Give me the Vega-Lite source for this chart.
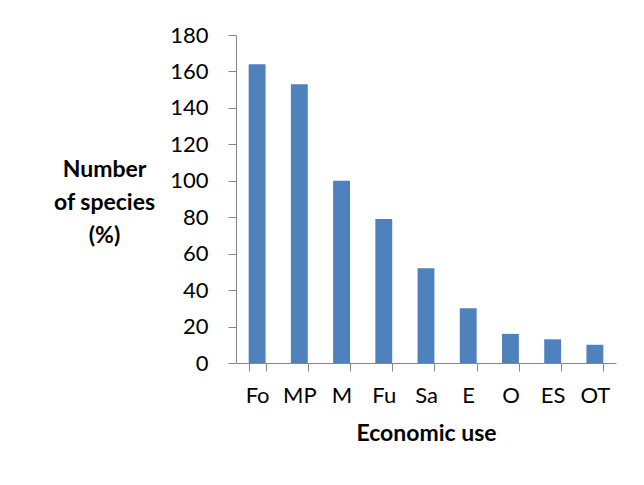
{
  "$schema": "https://vega.github.io/schema/vega-lite/v6.json",
  "width": 380,
  "height": 328,
  "autosize": "none",
  "padding": {"left": 236, "top": 35, "right": 28, "bottom": 122},
  "background": "white",
  "config": {
    "view": {"stroke": null},
    "font": "Lato",
    "axis": {
      "domainColor": "#868686",
      "tickColor": "#868686",
      "grid": false,
      "labelFont": "Lato",
      "labelFontSize": 22,
      "labelColor": "black",
      "titleFont": "Lato",
      "titleFontSize": 23,
      "titleFontWeight": "bold",
      "titleColor": "black",
      "tickSize": 8
    }
  },
  "data": {
    "values": [
      {"use": "Fo", "species": 164},
      {"use": "MP", "species": 153},
      {"use": "M", "species": 100},
      {"use": "Fu", "species": 79},
      {"use": "Sa", "species": 52},
      {"use": "E", "species": 30},
      {"use": "O", "species": 16},
      {"use": "ES", "species": 13},
      {"use": "OT", "species": 10}
    ]
  },
  "mark": {"type": "bar", "color": "#4F81BD"},
  "encoding": {
    "x": {
      "field": "use",
      "type": "nominal",
      "sort": null,
      "scale": {"paddingInner": 0.6, "paddingOuter": 0.3},
      "axis": {
        "title": "Economic use",
        "labelAngle": 0,
        "labelPadding": 14,
        "titlePadding": 16,
        "tickBand": "extent"
      }
    },
    "y": {
      "field": "species",
      "type": "quantitative",
      "scale": {"domain": [0, 180]},
      "axis": {
        "values": [0, 20, 40, 60, 80, 100, 120, 140, 160, 180],
        "labelPadding": 20,
        "title": ["Number", "of species", "(%)"],
        "titleAngle": 0,
        "titleAlign": "center",
        "titleBaseline": "middle",
        "titleLineHeight": 33,
        "titleX": -132,
        "titleY": 134
      }
    }
  }
}
